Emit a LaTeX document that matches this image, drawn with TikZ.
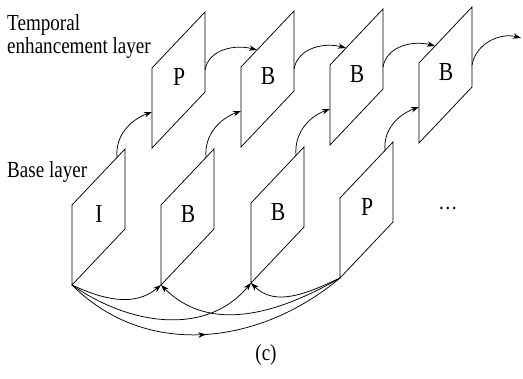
\documentclass[tikz,border=0pt]{standalone}
\usepackage{fontspec}
\newfontfamily\figfont[FakeStretch=0.83]{Liberation Serif}
\usetikzlibrary{arrows.meta, decorations.markings}

\begin{document}
\begin{tikzpicture}[
  x = 1pt, y = -1pt,
  every node/.style = {font=\figfont\fontsize{23}{23}\selectfont, inner sep=0pt},
  letter/.style = {font=\figfont\fontsize{26}{26}\selectfont},
  frame/.style = {draw, line width=0.75pt, line join=miter},
  edge/.style = {draw, line width=0.75pt, -{Stealth[length=8pt, width=5.5pt]}},
  midarrow/.style = {draw, line width=0.75pt, postaction={decorate},
    decoration={markings, mark=at position 0.5 with {\arrow{Stealth[length=8pt, width=5.5pt]}}}},
]
\useasboundingbox (0,0) rectangle (523,379);

% Each frame is a slanted picture; its corners and the points where the
% arrows meet it are kept as named coordinates.
\foreach \name/\x/\y/\lbl in {i/72/285/I, b1/161/285/B, b2/251/283/B, p/340/278/P,
                              tp/152/148/P, tb1/241/147/B, tb2/330/145/B, tb3/419/143/B} {
  \draw[frame] (\x,\y) coordinate (\name-bl) -- ++(0,-80) coordinate (\name-tl)
    -- ++(53,-56) coordinate (\name-tr) -- ++(0,80) coordinate (\name-br) -- cycle;
  \coordinate (\name-out)  at (\x+53, \y-78);
  \coordinate (\name-in)   at (\x+16, \y-97);
  \coordinate (\name-up)   at (\x+45, \y-127.5);
  \coordinate (\name-left) at (\x, \y-36);
  \node[letter] (\name) at (\x+27, \y-71) {\lbl};
}

\node[align=left, anchor=north west] (tlayer) at (7,14) {Temporal\\enhancement layer};
\node[anchor=base west] (blayer) at (7,178) {Base layer};
\node (dots) at (448,208) {\dots};
\node (cap) at (266,355) {(c)};
\coordinate (more) at (521,38);

% temporal layer, frame to frame
\foreach \from/\to in {tp/tb1, tb1/tb2, tb2/tb3}
  \draw[edge] (\from-out) to[out=80, in=165] (\to-in);
\draw[edge] (tb3-out) to[out=80, in=165] (more);

% base layer up to the temporal layer
\foreach \from/\to in {i/tp, b1/tb1, b2/tb2, p/tb3}
  \draw[edge] (\from-up) to[out=95, in=200] (\to-left);

% base layer, under the frames
\foreach \from/\to/\o/\i in {i/b1/-25/-140, i/b2/-35/-130, p/b2/-155/-45, p/b1/-150/-45}
  \draw[edge] (\from-bl) to[out=\o, in=\i] (\to-bl);
\draw[midarrow] (i-bl) to[out=-45, in=-140] (p-bl);

\end{tikzpicture}
\end{document}
